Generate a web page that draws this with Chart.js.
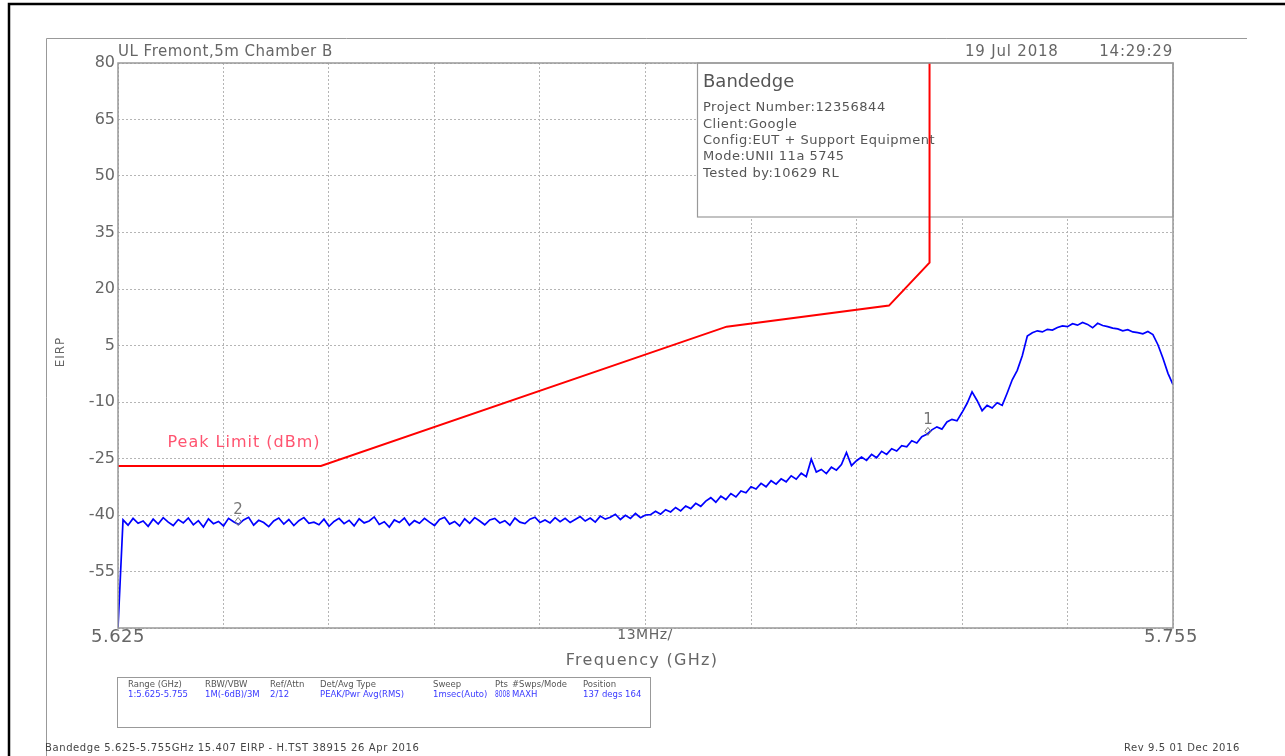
<!DOCTYPE html>
<html>
<head>
<meta charset="utf-8">
<script src="https://cdn.jsdelivr.net/npm/chart.js@4.4.1/dist/chart.umd.min.js"></script>
<style>
  html, body { margin: 0; padding: 0; background: #fff; }
  #chart { display: block; }
</style>
</head>
<body>
<canvas id="chart" width="1285" height="756"></canvas>
<script>
// sweep: 5.625 - 5.755 GHz, 13 MHz / div
const FREQ_START = 5.625;
const FREQ_STOP = 5.755;
const FREQ_DIV = 0.013;

// y axis (EIRP, dBm)
const Y_MIN = -70;
const Y_MAX = 80;
const Y_STEP = 15;

// peak limit line (FCC 15.407 band edge)
const limitFreq = [5.625, 5.65, 5.70, 5.72, 5.725, 5.725];
const limitDbm = [-27, -27, 10, 15.6, 27, 80];

const traceDbm = [
  -70,
  -41.3, -42.7, -40.9, -42.2, -41.6, -43.0, -41.1, -42.4, -40.7, -41.9,
  -42.8, -41.2, -42.1, -40.8, -42.6, -41.5, -43.2, -41.0, -42.3, -41.7,
  -42.9, -40.9, -41.8, -42.5, -41.3, -40.6, -42.7, -41.4, -42.0, -43.1,
  -41.6, -40.8, -42.4, -41.2, -42.8, -41.5, -40.7, -42.2, -41.9, -42.6,
  -41.1, -43.0, -41.7, -40.9, -42.3, -41.4, -42.9, -41.0, -42.1, -41.6,
  -40.5, -42.5, -41.8, -43.2, -41.3, -42.0, -40.8, -42.7, -41.5, -42.2,
  -40.9, -41.9, -42.8, -41.2, -40.6, -42.4, -41.7, -42.9, -41.0, -42.2,
  -40.7, -41.6, -42.6, -41.3, -40.9, -42.1, -41.5, -42.7, -40.8, -41.9,
  -42.3, -41.1, -40.6, -42.0,
  -41.3, -42.1, -40.7, -41.8, -40.9, -42.0, -41.2, -40.4, -41.6, -40.8,
  -41.9, -40.3, -41.1, -40.6, -39.8, -41.2, -40.1, -40.9, -39.6, -40.7,
  -40.0,
  -39.9, -39.0, -39.8, -38.6, -39.2, -38.0, -38.9, -37.6, -38.3, -36.9,
  -37.7, -36.3, -35.4, -36.6, -35.0, -35.9, -34.3, -35.2, -33.6, -34.1,
  -32.5,
  -33.1, -31.6, -32.5, -30.9, -31.8, -30.4, -31.2, -29.6, -30.5, -28.9,
  -29.8, -25.2, -28.6, -27.9, -29.0, -27.3, -28.1, -26.6, -23.4, -26.9,
  -25.6,
  -24.6, -25.5, -23.9, -24.8, -23.1, -23.9, -22.4, -23.0, -21.6, -21.9,
  -20.3, -20.9, -19.2, -18.6,
  -17.4, -16.6, -17.2, -15.3, -14.6, -15.0, -12.8, -10.4, -7.3, -9.6,
  -12.3, -10.9, -11.6, -10.2, -10.9, -7.6, -4.1, -1.6, 2.3, 7.5,
  8.4, 8.9, 8.6, 9.3, 9.1, 9.8, 10.2, 10.0, 10.8, 10.4,
  11.1, 10.6, 9.7, 10.9, 10.3, 10.0, 9.6, 9.4, 8.9, 9.2,
  8.6, 8.4, 8.1, 8.7, 7.9, 5.2, 1.6, -2.4, -5.4
];

// markers: number, frequency (GHz)
const markerNum = ["2", "1"];
const markerFreq = [5.6398, 5.7248];

const infoTitle = "Bandedge";
const infoLines = [
  "Project Number:12356844",
  "Client:Google",
  "Config:EUT + Support Equipment",
  "Mode:UNII 11a 5745",
  "Tested by:10629 RL"
];

const tableHead = ["Range (GHz)", "RBW/VBW", "Ref/Attn", "Det/Avg Type", "Sweep", "Pts", "#Swps/Mode", "Position"];
const tableVals = ["1:5.625-5.755", "1M(-6dB)/3M", "2/12", "PEAK/Pwr Avg(RMS)", "1msec(Auto)", "8008", "MAXH", "137 degs 164"];

const step = (FREQ_STOP - FREQ_START) / (traceDbm.length - 1);
const traceData = traceDbm.map((v, i) => ({ x: FREQ_START + i * step, y: v }));
const limitData = limitFreq.map((f, i) => ({ x: f, y: limitDbm[i] }));

const FONT = "'DejaVu Sans', sans-serif";
const GRAY = "#666";

function text(ctx, s, x, y, size, color, align, spacing, maxW) {
  ctx.font = size + "px " + FONT;
  ctx.fillStyle = color;
  ctx.textAlign = align || "left";
  ctx.textBaseline = "middle";
  ctx.letterSpacing = (spacing || 0) + "px";
  if (maxW) ctx.fillText(s, x, y, maxW);
  else ctx.fillText(s, x, y);
  ctx.letterSpacing = "0px";
}

const decor = {
  id: "decor",
  beforeDraw(chart) {
    const ctx = chart.ctx;
    ctx.save();
    // outer frames
    ctx.strokeStyle = "#000";
    ctx.lineWidth = 2.5;
    ctx.beginPath();
    ctx.moveTo(9, 760); ctx.lineTo(9, 4); ctx.lineTo(1290, 4);
    ctx.stroke();
    ctx.strokeStyle = "#999";
    ctx.lineWidth = 1;
    ctx.beginPath();
    ctx.moveTo(46.5, 760); ctx.lineTo(46.5, 38.5); ctx.lineTo(1247, 38.5);
    ctx.stroke();
    ctx.restore();
  },
  beforeDatasetsDraw(chart) {
    const ctx = chart.ctx;
    const a = chart.chartArea;
    ctx.save();
    // info box over the grid
    ctx.fillStyle = "#fff";
    ctx.fillRect(697, a.top, a.right - 697, 154);
    ctx.strokeStyle = "#999";
    ctx.lineWidth = 1.2;
    ctx.strokeRect(697.5, a.top, a.right - 697.5, 154);
    text(ctx, infoTitle, 703, 82, 18, "#555");
    infoLines.forEach((s, i) => text(ctx, s, 703, 108 + i * 16.3, 13, "#555", "left", 0.5));
    ctx.restore();
  },
  afterDatasetsDraw(chart) {
    const ctx = chart.ctx;
    const a = chart.chartArea;
    const xs = chart.scales.x, ys = chart.scales.y;
    ctx.save();
    ctx.strokeStyle = "#999";
    ctx.lineWidth = 1.5;
    ctx.strokeRect(a.left, a.top, a.right - a.left, a.bottom - a.top);

    // header
    text(ctx, "UL Fremont,5m Chamber B", 118, 52, 15, GRAY, "left", 0.5);
    text(ctx, "19 Jul 2018", 965, 52, 15, GRAY, "left", 0.8);
    text(ctx, "14:29:29", 1173, 52, 15, GRAY, "right", 0.8);

    // axis texts
    text(ctx, "5.625", a.left, 637, 18, GRAY, "center", 0.5);
    text(ctx, "5.755", a.right - 2, 637, 18, GRAY, "center", 0.5);
    text(ctx, "13MHz/", 645, 635, 14, GRAY, "center", 0.5);
    text(ctx, "Frequency (GHz)", 642, 661, 16, GRAY, "center", 1.3);
    ctx.save();
    ctx.translate(61, 352);
    ctx.rotate(-Math.PI / 2);
    text(ctx, "EIRP", 0, 0, 12, GRAY, "center", 1);
    ctx.restore();

    // limit label
    text(ctx, "Peak Limit (dBm)", xs.getPixelForValue(5.6311), ys.getPixelForValue(-20.8), 16, "#ff5470", "left", 1);

    // markers
    markerFreq.forEach((f, m) => {
      const i = Math.round((f - FREQ_START) / step);
      const px = xs.getPixelForValue(f);
      const py = ys.getPixelForValue(traceDbm[i]) - 3;
      ctx.strokeStyle = "#777";
      ctx.lineWidth = 1;
      ctx.beginPath();
      ctx.moveTo(px, py - 4); ctx.lineTo(px + 3, py); ctx.lineTo(px, py + 4); ctx.lineTo(px - 3, py); ctx.closePath();
      ctx.stroke();
      text(ctx, markerNum[m], px, py - 11, 15, "#777", "center");
    });

    // settings table
    ctx.strokeStyle = "#999";
    ctx.lineWidth = 1;
    ctx.strokeRect(117.5, 677.5, 533, 50);
    const colX = [128, 205, 270, 320, 433, 495, 512, 583];
    const colW = [60, 55, 40, 95, 55, 15, 55, 60];
    tableHead.forEach((s, i) => text(ctx, s, colX[i], 685, 8.5, "#555", "left", 0, colW[i]));
    tableVals.forEach((s, i) => text(ctx, s, colX[i], 695, 8.5, "#3a3aff", "left", 0, colW[i]));

    // footer
    text(ctx, "Bandedge 5.625-5.755GHz 15.407 EIRP - H.TST 38915 26 Apr 2016", 45, 748, 10, "#444", "left", 0.6);
    text(ctx, "Rev 9.5 01 Dec 2016", 1240, 748, 10, "#444", "right", 0.6);
    ctx.restore();
  }
};

new Chart(document.getElementById("chart"), {
  type: "line",
  data: {
    datasets: [
      {
        label: "Peak Limit (dBm)",
        data: limitData,
        borderColor: "#ff0000",
        borderWidth: 2,
        pointRadius: 0,
        tension: 0
      },
      {
        label: "Trace",
        data: traceData,
        borderColor: "#0000ff",
        borderWidth: 1.7,
        pointRadius: 0,
        tension: 0
      }
    ]
  },
  options: {
    responsive: false,
    animation: false,
    devicePixelRatio: 1,
    layout: { padding: { top: 63, right: 112, bottom: 128, left: 0 } },
    plugins: { legend: { display: false }, tooltip: { enabled: false } },
    scales: {
      x: {
        type: "linear",
        min: FREQ_START,
        max: FREQ_STOP,
        afterBuildTicks: (s) => {
          s.ticks = [];
          for (let k = 0; k <= 10; k++) s.ticks.push({ value: FREQ_START + k * FREQ_DIV });
        },
        ticks: { display: false },
        grid: { color: "#b5b5b5", drawTicks: false, lineWidth: 1 },
        border: { display: false, dash: [2, 2] },
        afterFit: (s) => { s.height = 0; }
      },
      y: {
        min: Y_MIN,
        max: Y_MAX,
        ticks: {
          stepSize: Y_STEP,
          padding: 3,
          color: GRAY,
          font: { family: FONT, size: 16 },
          callback: (v) => (v === Y_MIN ? "" : v)
        },
        grid: { color: "#b5b5b5", drawTicks: false, lineWidth: 1 },
        border: { display: false, dash: [2, 2] },
        afterFit: (s) => { s.width = 118; }
      }
    }
  },
  plugins: [decor]
});
</script>
</body>
</html>
